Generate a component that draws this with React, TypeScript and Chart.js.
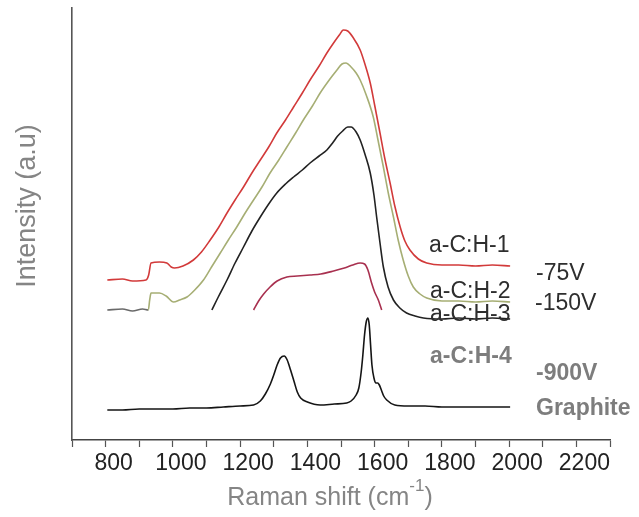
import React, { useEffect, useRef } from "react";
import { Chart, registerables } from "chart.js";

Chart.register(...registerables);

// Raman shift (cm-1) and intensity (a.u.)
const h1Shift = [805,850,880,920,928,935,960,982,995,1005,1030,1061,1085,1111,1135,1161,1185,1210,1235,1260,1285,1309,1335,1359,1385,1408,1435,1458,1480,1495,1507,1520,1535,1557,1572,1587,1600,1616,1630,1646,1660,1676,1690,1705,1730,1755,1800,1850,1900,1950,2003];
const h1Intensity = [160,161,159,160,165,177,178,177,173,172,174,180,188,200,212,227,240,253,267,280,293,307,320,333,347,360,374,387,398,405,410,409,403,390,375,357,335,307,282,257,234,213,199,190,181,177,175,175,174,175,174];

const h2Shift = [805,850,880,910,927,931,935,960,980,1002,1020,1042,1065,1091,1115,1141,1165,1190,1215,1240,1265,1289,1315,1339,1365,1388,1415,1438,1465,1488,1503,1515,1530,1545,1557,1575,1596,1610,1626,1640,1656,1670,1685,1700,1715,1735,1755,1800,1850,1900,1950,2003];
const h2Intensity = [130,131,129,131,130,140,147,147,144,138,140,143,150,160,173,187,200,213,227,240,253,267,280,293,307,320,334,347,360,370,376,377,373,367,360,345,323,300,273,248,223,200,180,164,153,146,142,139,139,138,139,138];

const h3Shift = [1116,1135,1161,1185,1210,1235,1260,1285,1309,1335,1359,1385,1408,1435,1458,1475,1490,1505,1520,1530,1545,1557,1572,1587,1598,1606,1616,1626,1640,1656,1675,1695,1720,1745,1800,1850,1900,1950,2003];
const h3Intensity = [130,143,160,177,193,209,223,236,247,256,263,270,277,284,290,297,304,309,313,313,308,300,285,267,245,223,197,173,153,140,132,127,124,122,121,122,121,122,121];

const h4Shift = [1240,1255,1270,1289,1310,1339,1370,1408,1440,1478,1510,1535,1557,1570,1580,1591,1600,1611,1621];
const h4Intensity = [130,139,146,153,159,163,164,165,166,169,172,175,177,176,170,157,148,140,130];

const graphiteShift = [805,850,900,950,1000,1050,1100,1150,1200,1240,1260,1275,1290,1300,1310,1320,1331,1340,1350,1360,1370,1380,1400,1438,1480,1517,1530,1545,1553,1560,1565,1570,1575,1580,1584,1588,1592,1598,1604,1609,1614,1620,1627,1636,1660,1700,1750,1800,1850,1900,1950,2003];
const graphiteIntensity = [30,30,31,31,31,32,32,33,34,35,39,46,56,65,75,82,84,80,70,59,48,42,38,35,36,37,39,45,52,68,85,105,118,122,115,95,75,62,57,57,55,50,44,40,35,34,34,33,33,33,33,33];

const xTickLabels = [800, 1000, 1200, 1400, 1600, 1800, 2000, 2200];
const sampleLabels = ["a-C:H-1", "a-C:H-2", "a-C:H-3", "a-C:H-4"];
const biasLabels = ["-75V", "-150V", "-900V", "Graphite"];
const xTitle = "Raman shift (cm";
const xTitleSup = "-1";
const yTitle = "Intensity (a.u)";

const FONT = '"Liberation Sans", Arial, sans-serif';

const toPoints = (xs: number[], ys: number[]) => xs.map((x, i) => ({ x, y: ys[i] }));

const textPlugin = {
  id: "textPlugin",
  afterDraw(chart: any) {
    const ctx = chart.ctx as CanvasRenderingContext2D;
    ctx.save();
    // y title
    ctx.save();
    ctx.translate(28, 206);
    ctx.rotate(-Math.PI / 2);
    ctx.font = `27px ${FONT}`;
    ctx.fillStyle = "#858585";
    ctx.textAlign = "center";
    ctx.textBaseline = "middle";
    ctx.fillText(yTitle, 0, 0);
    ctx.restore();

    // x title with superscript
    ctx.textBaseline = "alphabetic";
    ctx.textAlign = "left";
    ctx.fillStyle = "#858585";
    ctx.font = `25px ${FONT}`;
    const w1 = ctx.measureText(xTitle).width;
    const w3 = ctx.measureText(")").width;
    ctx.font = `17px ${FONT}`;
    const w2 = ctx.measureText(xTitleSup).width;
    const total = w1 + w2 + w3;
    let x0 = 330 - total / 2;
    ctx.font = `25px ${FONT}`;
    ctx.fillText(xTitle, x0, 505);
    ctx.font = `17px ${FONT}`;
    ctx.fillText(xTitleSup, x0 + w1, 491);
    ctx.font = `25px ${FONT}`;
    ctx.fillText(")", x0 + w1 + w2, 505);

    // sample labels
    ctx.font = `23px ${FONT}`;
    ctx.fillStyle = "#2e2e2e";
    ctx.fillText(sampleLabels[0], 429, 252);
    ctx.fillText(sampleLabels[1], 430, 298);
    ctx.fillText(sampleLabels[2], 430, 321);
    ctx.fillText(biasLabels[0], 536, 280);
    ctx.fillText(biasLabels[1], 535, 310);
    ctx.fillStyle = "#7d7d7d";
    ctx.font = `bold 23px ${FONT}`;
    ctx.fillText(sampleLabels[3], 430, 363);
    ctx.fillText(biasLabels[2], 536, 380);
    ctx.fillText(biasLabels[3], 536, 415);
    ctx.restore();
  },
};

export default function App() {
  const ref = useRef<HTMLCanvasElement | null>(null);
  useEffect(() => {
    if (!ref.current) return;
    const chart = new Chart(ref.current, {
      type: "line",
      data: {
        datasets: [
          {
            label: sampleLabels[0],
            data: toPoints(h1Shift, h1Intensity),
            borderColor: "#d23a3a",
            borderWidth: 1.6,
            pointRadius: 0,
            cubicInterpolationMode: "monotone",
          },
          {
            label: sampleLabels[1],
            data: toPoints(h2Shift, h2Intensity),
            borderColor: "#a6ae74",
            borderWidth: 1.6,
            pointRadius: 0,
            cubicInterpolationMode: "monotone",
            segment: {
              borderColor: (c: any) => (c.p1.parsed.x <= 927 ? "#6a6a6a" : "#a6ae74"),
            },
          },
          {
            label: sampleLabels[2],
            data: toPoints(h3Shift, h3Intensity),
            borderColor: "#222222",
            borderWidth: 1.6,
            pointRadius: 0,
            cubicInterpolationMode: "monotone",
          },
          {
            label: sampleLabels[3],
            data: toPoints(h4Shift, h4Intensity),
            borderColor: "#a8304f",
            borderWidth: 1.6,
            pointRadius: 0,
            cubicInterpolationMode: "monotone",
          },
          {
            label: biasLabels[3],
            data: toPoints(graphiteShift, graphiteIntensity),
            borderColor: "#151515",
            borderWidth: 1.6,
            pointRadius: 0,
            cubicInterpolationMode: "monotone",
          },
        ],
      },
      options: {
        animation: false,
        responsive: true,
        maintainAspectRatio: false,
        devicePixelRatio: 1,
        layout: { padding: { left: 0, top: 8, right: 29, bottom: 0 } },
        plugins: { legend: { display: false }, tooltip: { enabled: false } },
        scales: {
          x: {
            type: "linear",
            min: 700,
            max: 2300,
            afterFit: (s: any) => {
              s.height = 77;
            },
            ticks: {
              stepSize: 100,
              autoSkip: false,
              maxRotation: 0,
              minRotation: 0,
              padding: 3,
              labelOffset: 8,
              color: "#222",
              font: { size: 23, family: FONT },
              callback: (v: any) => (xTickLabels.includes(Number(v)) ? String(v) : ""),
            },
            grid: {
              display: true,
              drawOnChartArea: false,
              drawTicks: true,
              tickLength: 7,
              tickColor: "#555",
              tickWidth: 1.2,
            },
            border: { display: true, color: "#444", width: 1.6 },
          },
          y: {
            type: "linear",
            min: 0,
            max: 432,
            afterFit: (s: any) => {
              s.width = 72;
            },
            ticks: { display: false },
            grid: { display: false },
            border: { display: true, color: "#555", width: 1.6 },
          },
        },
      },
      plugins: [textPlugin],
    });
    return () => chart.destroy();
  }, []);
  return (
    <div style={{ position: "absolute", left: 0, top: 0, width: 639, height: 517, background: "#fff" }}>
      <canvas ref={ref} />
    </div>
  );
}
